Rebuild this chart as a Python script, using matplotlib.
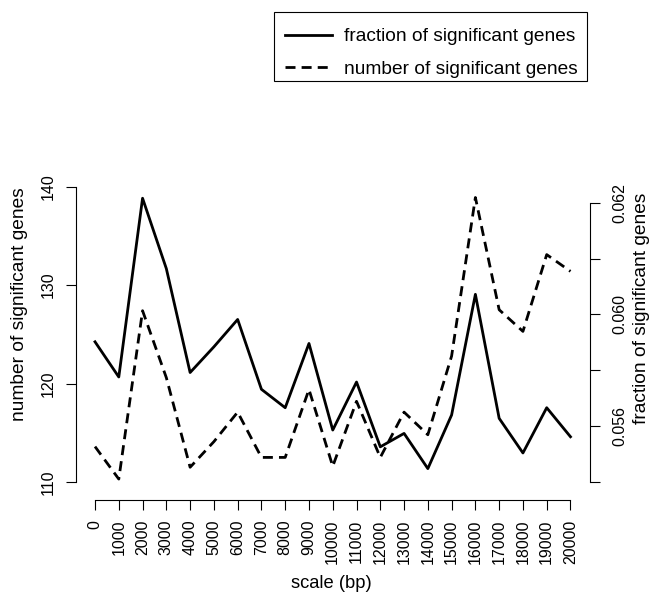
import matplotlib
matplotlib.use("Agg")
import matplotlib.pyplot as plt
from matplotlib.patches import Rectangle

plt.rcParams['font.family'] = ['Liberation Sans', 'DejaVu Sans']

# ---- data ----
scale_bp = [0, 1000, 2000, 3000, 4000, 5000, 6000, 7000, 8000, 9000, 10000,
            11000, 12000, 13000, 14000, 15000, 16000, 17000, 18000, 19000, 20000]
number_sig = [113.6, 110.3, 127.4, 120.6, 111.5, 114.1, 117.1, 112.5, 112.5, 119.4, 111.6,
              118.2, 112.5, 117.1, 114.8, 122.8, 138.9, 127.5, 125.3, 133.1, 131.4]
fraction_sig = [0.05951, 0.05888, 0.06208, 0.06082, 0.05896, 0.05942, 0.05991, 0.05866,
                0.05833, 0.05948, 0.05793, 0.05879, 0.05763, 0.05787, 0.05724, 0.05820,
                0.06036, 0.05814, 0.05752, 0.05833, 0.05781]
x_ticks = list(range(0, 20001, 1000))
x_tick_labels = [str(v) for v in x_ticks]
left_ticks = [110, 120, 130, 140]
right_ticks = [0.057, 0.058, 0.059, 0.060, 0.061, 0.062]
right_tick_labels = ["", "0.056", "", "0.060", "", "0.062"]

W, H = 652, 592
fig = plt.figure(figsize=(W / 100, H / 100), dpi=100)
ax_l, ax_r, ax_t, ax_b = 76, 589.5, 185, 490
ax = fig.add_axes([ax_l / W, 1 - ax_b / H, (ax_r - ax_l) / W, (ax_b - ax_t) / H])
ax.patch.set_alpha(0)
ax2 = ax.twinx()

LW = 2.0
dash_line, = ax.plot(scale_bp, number_sig, color='black', lw=LW,
                     linestyle=(0, (3.6, 2.2)), label='number of significant genes')
solid_line, = ax2.plot(scale_bp, fraction_sig, color='black', lw=LW,
                       label='fraction of significant genes')

ax.set_xlim(-800, 20800)
ax.set_ylim(109.19, 140.17)
ax2.set_ylim(0.056857, 0.062317)

tick_fs = 11.5
for a in (ax, ax2):
    a.spines['top'].set_visible(False)
    for s in a.spines.values():
        s.set_linewidth(0.8)
ax2.spines['left'].set_visible(False)
ax2.spines['bottom'].set_visible(False)
ax.spines['right'].set_visible(False)

ax.spines['left'].set_bounds(110, 140)
ax.set_yticks(left_ticks)
ax.set_yticklabels([str(v) for v in left_ticks], rotation=90, va='center', fontsize=tick_fs)
ax.tick_params(axis='y', direction='out', length=7, width=0.8, pad=7.5)

ax.spines['bottom'].set_position(('outward', 7.4))
ax.spines['bottom'].set_bounds(0, 20000)
ax.set_xticks(x_ticks)
ax.set_xticklabels(x_tick_labels, rotation=90, fontsize=tick_fs)
ax.tick_params(axis='x', direction='out', length=7, width=0.8, pad=7)

ax2.spines['right'].set_bounds(0.057, 0.062)
ax2.set_yticks(right_ticks)
ax2.set_yticklabels(right_tick_labels, rotation=90, va='center', fontsize=tick_fs)
ax2.tick_params(axis='y', direction='out', length=7, width=0.8, pad=9.5)

lab_fs = 13.8
fig.text(20 / W, 1 - 304 / H, 'number of significant genes', rotation=90,
         ha='center', va='center', fontsize=lab_fs)
fig.text(641 / W, 1 - 308 / H, 'fraction of significant genes', rotation=90,
         ha='center', va='center', fontsize=lab_fs)
fig.text(331 / W, 1 - 584 / H, 'scale (bp)', ha='center', va='center', fontsize=13.2)

fs_px = lab_fs * 100 / 72
leg = ax.legend([solid_line, dash_line],
                ['fraction of significant genes', 'number of significant genes'],
                loc='upper left', bbox_to_anchor=(285 / W, 1 - 28 / H),
                bbox_transform=fig.transFigure, frameon=False, fontsize=lab_fs,
                borderpad=0, borderaxespad=0, handlelength=47 / fs_px,
                handletextpad=12.3 / fs_px, labelspacing=0.8)
fig.add_artist(Rectangle((274 / W, 1 - 80.7 / H), (586.7 - 274) / W, (80.7 - 11.7) / H,
                         transform=fig.transFigure, fill=False, edgecolor='black', lw=0.8))

fig.savefig('out.png', dpi=100)
